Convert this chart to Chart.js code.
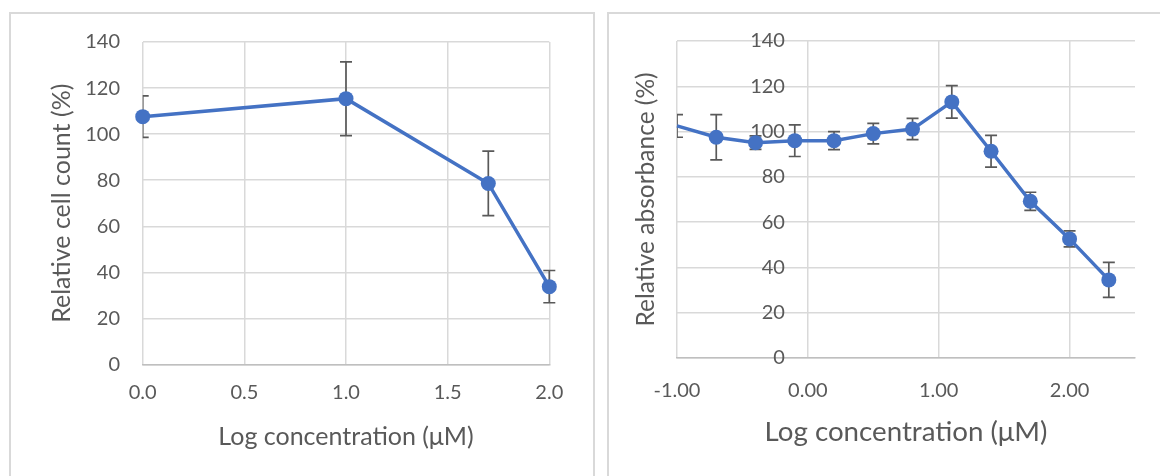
<!DOCTYPE html>
<html><head><meta charset="utf-8">
<script src="https://cdn.jsdelivr.net/npm/chart.js@4"></script>
<style>
html,body{margin:0;padding:0;background:#fff;width:1160px;height:476px;overflow:hidden;}
.panel{position:absolute;border:2px solid #d9d9d9;box-sizing:border-box;background:#fff;}
#p1{left:9px;top:12px;width:586px;height:480px;}
#p2{left:607px;top:12px;width:570px;height:480px;}
canvas{position:absolute;top:0;}
#c1{left:0;width:600px;height:476px;}
#c2{left:600px;width:560px;height:476px;}
</style></head><body>
<div class="panel" id="p1"></div><div class="panel" id="p2"></div>
<canvas id="c1" width="600" height="476"></canvas>
<canvas id="c2" width="560" height="476"></canvas>
<script>
// ---- Left chart data ----
const leftX = [0, 1, 1.7, 2.0];
const leftY = [107.6, 115.4, 78.6, 33.8];
const leftErr = [9, 16, 14, 7];
const leftXTicks = [0, 0.5, 1, 1.5, 2];
const leftXTickLabels = ['0.0', '0.5', '1.0', '1.5', '2.0'];
const leftYTicks = [0, 20, 40, 60, 80, 100, 120, 140];
const leftYTickLabels = ['0', '20', '40', '60', '80', '100', '120', '140'];

// ---- Right chart data ----
const rightX = [-1.0, -0.7, -0.4, -0.1, 0.2, 0.5, 0.8, 1.1, 1.4, 1.7, 2.0, 2.3];
const rightY = [102.5, 97.5, 95.1, 96.0, 96.0, 99.1, 101.1, 113.1, 91.3, 69.2, 52.6, 34.5];
const rightErr = [5, 10, 3, 7, 4, 4.5, 4.7, 7.2, 7, 4, 3.5, 7.7];
const rightXTicks = [-1, 0, 1, 2];
const rightXTickLabels = ['-1.00', '0.00', '1.00', '2.00'];
const rightYTicks = [0, 20, 40, 60, 80, 100, 120, 140];
const rightYTickLabels = ['0', '20', '40', '60', '80', '100', '120', '140'];

const BLUE = '#4472C4';
const TXT = '#595959';
const GRID = '#d9d9d9';
const AXIS = '#bfbfbf';
const FONT = 'Lato';

function errorBarPlugin(xs, ys, es) {
  return {
    id: 'errorBars',
    beforeDatasetsDraw(chart) {
      const {ctx, chartArea} = chart;
      const sx = chart.scales.x, sy = chart.scales.y;
      ctx.save();
      ctx.beginPath();
      ctx.rect(chartArea.left, 0, chart.width - chartArea.left, chart.height);
      ctx.clip();
      ctx.strokeStyle = '#595959';
      ctx.lineWidth = 1.7;
      xs.forEach((xv, i) => {
        const px = sx.getPixelForValue(xv);
        const t = sy.getPixelForValue(ys[i] + es[i]);
        const b = sy.getPixelForValue(ys[i] - es[i]);
        ctx.beginPath();
        ctx.moveTo(px, t); ctx.lineTo(px, b);
        ctx.moveTo(px - 6, t); ctx.lineTo(px + 6, t);
        ctx.moveTo(px - 6, b); ctx.lineTo(px + 6, b);
        ctx.stroke();
      });
      ctx.restore();
    }
  };
}

function draw() {
  Chart.defaults.font.family = FONT;
  Chart.defaults.color = TXT;

  new Chart(document.getElementById('c1'), {
    type: 'scatter',
    data: {
      datasets: [{
        data: leftX.map((x, i) => ({x, y: leftY[i]})),
        showLine: true,
        borderColor: BLUE,
        backgroundColor: BLUE,
        borderWidth: 3.5,
        pointRadius: 7.5,
        pointBorderWidth: 0,
        clip: false
      }]
    },
    options: {
      responsive: false,
      animation: false,
      events: [],
      layout: {padding: {top: 42, right: 50.7, left: 0, bottom: 0}},
      plugins: {legend: {display: false}, tooltip: {enabled: false}},
      scales: {
        x: {
          type: 'linear', position: 'bottom', min: 0, max: 2,
          afterBuildTicks: s => { s.ticks = leftXTicks.map(v => ({value: v})); },
          afterFit: s => { s.height = 111.5; },
          grid: {color: GRID, lineWidth: 1.5, drawTicks: false},
          border: {color: AXIS, width: 1.5},
          ticks: {padding: 16.5, font: {size: 20}, color: TXT, maxRotation: 0,
                  callback: (v, i) => leftXTickLabels[i]},
          title: {display: true, text: 'Log concentration (μM)', color: TXT,
                  font: {size: 25, lineHeight: 1.2}, padding: {top: 0, bottom: 24}}
        },
        y: {
          type: 'linear', position: 'left', min: 0, max: 140,
          afterBuildTicks: s => { s.ticks = leftYTicks.map(v => ({value: v})); },
          afterFit: s => { s.width = 142.7; },
          grid: {color: GRID, lineWidth: 1.5, drawTicks: false},
          border: {display: false},
          ticks: {padding: 22.7, font: {size: 20}, color: TXT,
                  callback: (v, i) => leftYTickLabels[i]},
          title: {display: true, text: 'Relative cell count (%)', color: TXT,
                  font: {size: 25, lineHeight: 1.2}, padding: {top: 46.5, bottom: 0}}
        }
      }
    },
    plugins: [errorBarPlugin(leftX, leftY, leftErr)]
  });

  new Chart(document.getElementById('c2'), {
    type: 'scatter',
    data: {
      datasets: [{
        data: rightX.map((x, i) => ({x, y: rightY[i]})),
        showLine: true,
        borderColor: BLUE,
        backgroundColor: BLUE,
        borderWidth: 3.5,
        pointRadius: ctx => ctx.dataIndex === 0 ? 0 : 7.5,
        pointBorderWidth: 0,
        clip: false
      }]
    },
    options: {
      responsive: false,
      animation: false,
      events: [],
      layout: {padding: {top: 41, right: 25, left: 0, bottom: 0}},
      plugins: {legend: {display: false}, tooltip: {enabled: false}},
      scales: {
        x: {
          type: 'linear', position: 'bottom', min: -1, max: 2.5,
          afterBuildTicks: s => { s.ticks = rightXTicks.map(v => ({value: v})); },
          afterFit: s => { s.height = 118; },
          grid: {color: GRID, lineWidth: 1.5, drawTicks: false},
          border: {color: AXIS, width: 1.5},
          ticks: {padding: 21, font: {size: 20}, color: TXT, maxRotation: 0,
                  callback: (v, i) => rightXTickLabels[i]},
          title: {display: true, text: 'Log concentration (μM)', color: TXT,
                  font: {size: 27.7, lineHeight: 1.2}, padding: {top: 0, bottom: 27.4}}
        },
        y: {
          type: 'linear', position: {x: -0.175}, min: 0, max: 140,
          afterBuildTicks: s => { s.ticks = rightYTicks.map(v => ({value: v})); },
          grid: {color: GRID, lineWidth: 1.5, drawTicks: false},
          border: {display: false},
          ticks: {padding: 0, font: {size: 20}, color: TXT,
                  callback: (v, i) => rightYTickLabels[i]},
          title: {display: false}
        },
        yTitle: {
          type: 'linear', axis: 'y', position: 'left', min: 0, max: 140,
          afterFit: s => { s.width = 77; },
          grid: {display: false, drawTicks: false},
          border: {display: false},
          ticks: {display: false},
          title: {display: true, text: 'Relative absorbance (%)', color: TXT,
                  font: {size: 24.5, lineHeight: 1.2}, padding: {top: 31, bottom: 0}}
        }
      }
    },
    plugins: [errorBarPlugin(rightX, rightY, rightErr)]
  });
}

if (document.fonts && document.fonts.load) {
  Promise.all([document.fonts.load('20px Lato'), document.fonts.load('25px Lato')])
    .then(draw, draw);
} else { draw(); }
</script>
</body></html>
